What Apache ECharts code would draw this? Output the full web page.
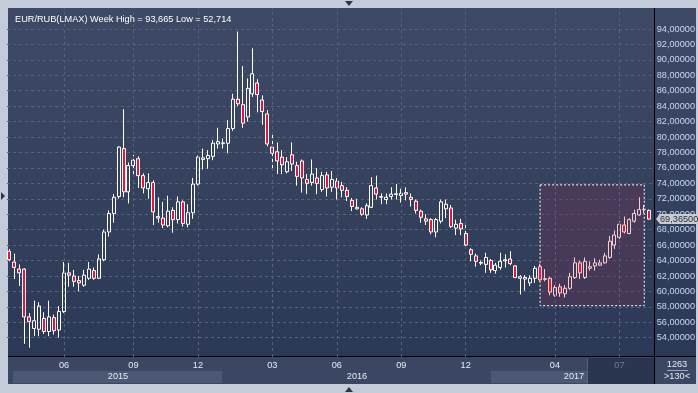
<!DOCTYPE html>
<html><head><meta charset="utf-8">
<script src="https://cdn.jsdelivr.net/npm/echarts@6/dist/echarts.min.js"></script>
<style>
html,body{margin:0;padding:0;background:#c3ccd8;overflow:hidden;}
.abs{position:absolute;}
#panel{left:8px;top:8px;width:688px;height:349px;background:linear-gradient(#3e4a65,#2c3956);}
#xbar{left:8px;top:357px;width:688px;height:27px;background:#3b4762;}
#box15{left:13px;top:371px;width:209px;height:12px;background:#4b5874;}
#box17{left:491px;top:371px;width:96px;height:12px;background:#4b5874;}
#dark{left:587px;top:358px;width:67px;height:26px;background:#2a3550;border-left:1px solid #56637e;}
#hline{left:8px;top:356px;width:688px;height:1px;background:#000;}
#vline{left:654px;top:8px;width:1px;height:376px;background:#000;}
#c{left:0;top:0;width:698px;height:393px;}
</style>
</head><body>
<div class="abs" id="panel"></div>
<div class="abs" id="xbar"></div>
<div class="abs" id="box15"></div>
<div class="abs" id="box17"></div>
<div class="abs" id="dark"></div>
<div class="abs" id="hline"></div>
<div class="abs" id="vline"></div>
<div class="abs" id="c"></div>
<script>
// ---- data (weekly EUR/RUB candles) ----
const opens = [65.2,63.8,62.9,62.9,56.7,55.2,55.1,56.5,54.8,56.6,
  55.0,57.4,62.4,62.0,61.4,60.8,61.7,62.7,61.7,64.1,
  67.7,70.1,72.3,78.5,72.9,76.3,77.2,75.0,73.3,74.1,
  69.7,69.5,68.5,70.5,69.3,71.6,68.7,70.2,73.9,77.1,
  77.2,77.5,79.1,79.15,79.2,81.1,84.9,84.2,82.6,85.6,
  87.0,84.8,83.0,78.7,78.1,77.4,75.5,77.7,76.3,76.9,
  74.5,74.1,74.7,73.2,75.1,73.5,74.3,73.7,73.1,71.8,
  70.7,70.7,69.9,70.9,73.4,72.2,71.9,72.3,72.55,72.4,
  72.8,72.2,71.7,70.4,69.4,69.3,67.7,69.1,70.7,70.8,
  68.2,68.8,67.5,65.4,64.6,63.65,63.5,64.0,62.7,63.1,
  63.95,64.2,63.3,61.7,61.6,61.1,61.7,63.2,61.55,61.7,
  59.5,60.6,59.7,60.4,61.8,63.7,61.8,63.0,63.3,63.4,
  63.7,64.4,66.0,67.0,68.6,67.5,69.1,69.9,70.6,70.5];
const highs = [65.5,64.9,63.5,63.0,57.2,58.8,58.6,57.3,58.8,57.0,
  58.1,63.8,63.7,62.8,62.0,62.8,63.8,63.1,64.8,68.0,
  70.5,72.6,78.8,83.6,76.7,77.7,77.5,75.3,75.3,74.4,
  72.2,71.6,72.4,70.9,72.3,71.8,71.3,74.7,77.6,78.5,
  78.3,79.6,81.2,79.8,82.2,85.6,93.665,89.2,87.6,91.5,
  87.5,85.4,83.5,80.6,79.3,78.3,77.4,79.3,76.8,77.1,
  75.2,77.1,76.0,75.5,75.5,75.6,74.7,74.2,73.5,72.1,
  72.0,70.9,71.4,74.8,75.0,72.7,72.7,73.5,73.9,73.3,
  73.5,72.7,71.9,70.6,70.0,69.5,69.5,71.9,71.9,71.2,
  69.3,69.4,69.0,65.6,64.9,64.0,65.0,64.2,63.7,65.0,
  64.8,65.2,63.4,62.1,62.1,62.1,63.3,63.6,62.9,61.9,
  60.8,61.0,60.8,62.4,64.4,64.0,64.4,63.9,64.3,64.1,
  65.0,67.2,67.9,69.1,69.7,69.5,70.6,72.2,71.2,70.6];
const lows = [63.9,61.6,60.7,53.2,52.714,54.2,54.2,54.5,54.2,54.4,
  54.0,57.2,60.6,60.6,60.0,60.6,61.5,61.5,61.6,63.9,
  67.1,68.9,72.0,72.2,71.4,75.1,73.4,72.7,72.0,68.6,
  68.9,68.2,68.3,67.6,68.8,68.4,68.3,69.4,73.7,75.8,
  75.9,77.0,78.5,78.5,77.9,80.8,84.0,81.2,82.0,85.2,
  83.2,81.6,78.8,75.7,75.2,75.2,75.3,75.6,73.7,72.8,
  72.6,73.7,72.6,72.9,72.3,72.9,71.9,72.2,71.7,70.4,
  70.6,69.8,69.4,70.8,71.9,71.3,71.3,71.9,71.9,71.5,
  71.8,71.0,70.1,68.9,68.6,67.4,67.0,68.8,69.5,68.2,
  67.3,67.3,65.7,63.9,63.2,63.4,62.4,62.4,62.3,62.8,
  63.1,63.4,61.7,59.6,60.1,60.7,61.1,61.3,61.3,59.5,
  59.3,59.3,59.2,60.2,61.6,61.6,61.6,62.7,62.7,63.3,
  63.6,64.2,65.5,66.8,67.5,67.4,68.9,69.8,70.1,69.3];
const closes = [64.1,63.1,62.4,56.7,56.1,56.2,58.1,54.8,56.7,54.9,
  57.4,62.4,62.1,61.3,61.1,62.1,62.9,61.7,64.2,67.7,
  70.1,72.2,78.7,72.9,76.3,77.0,75.0,73.4,74.1,70.3,
  69.5,68.6,70.4,69.3,71.6,68.8,70.2,73.9,77.4,77.3,
  77.6,79.2,79.4,79.25,81.1,84.9,84.3,81.8,86.3,88.2,
  85.5,83.3,79.1,77.9,76.9,76.4,76.8,76.5,74.9,74.7,
  74.0,75.2,74.0,75.0,73.4,74.5,73.4,73.1,72.3,71.0,
  70.9,70.0,71.1,73.7,72.6,72.3,72.2,72.6,72.65,72.7,
  72.6,71.9,70.5,69.6,69.1,67.7,69.3,71.6,71.3,68.4,
  68.7,68.1,66.0,64.8,63.9,63.75,64.4,62.8,63.4,63.9,
  64.1,63.6,61.8,61.9,61.8,61.7,63.0,61.5,61.65,59.9,
  60.5,59.8,60.4,61.9,63.7,62.4,63.9,63.2,63.7,63.7,
  64.6,66.5,67.3,68.7,67.7,69.3,70.1,70.6,70.65,69.365];
const monthTickIdx = [11,25,38,53,66,79,92,110,123];
const monthLabels = ['06','09','12','03','06','09','12','04','07'];
const yTicks = [54,56,58,60,62,64,66,68,70,72,74,76,78,80,82,84,86,88,90,92,94];
const yearLabels = ['2015','2016','2017'];
const selStart = 107, selEnd = 128, selHigh = 73.8, selLow = 58.15;
const lastPrice = 69.365;
const titleText = 'EUR/RUB(LMAX) Week High = 93,665 Low = 52,714';

// week categories
const weeks = [];
for (let i = 0; i < opens.length; i++) {
  const d = new Date(Date.UTC(2015, 2, 2) + i * 7 * 86400000);
  weeks.push(d.toISOString().slice(0, 10));
}
const FONT = "'Liberation Sans', Arial, sans-serif";
const fmt = v => v.toFixed(5).replace('.', ',');

const candleData = opens.map((o, i) => {
  const item = { value: [o, closes[i], lows[i], highs[i]] };
  if (i >= selStart && i <= selEnd) {
    item.itemStyle = { borderColor: '#f6d0d0', borderColor0: '#f6d0d0' };
  }
  return item;
});

const chart = echarts.init(document.getElementById('c'), null, { renderer: 'canvas' });
chart.setOption({
  animation: false,
  backgroundColor: 'transparent',
  title: { text: titleText, left: 10, top: 10, textStyle: { color: '#ffffff', fontSize: 9.2, fontWeight: 'normal', fontFamily: FONT } },
  grid: { left: 7, right: 45, top: 8, bottom: 36, containLabel: false },
  xAxis: {
    type: 'category', data: weeks, boundaryGap: true,
    axisLine: { show: false }, axisTick: { show: false }, splitLine: { show: false },
    axisLabel: {
      interval: (idx) => monthTickIdx.indexOf(idx) >= 0,
      formatter: (val, idx) => {
        const k = monthTickIdx.indexOf(idx);
        if (k < 0) return '';
        return k === monthLabels.length - 1 ? '{d|' + monthLabels[k] + '}' : monthLabels[k];
      },
      rich: { d: { color: '#6d7a95', fontSize: 9.2, fontFamily: FONT } },
      color: '#e6ebf3', fontSize: 9.2, fontFamily: FONT, margin: 4
    }
  },
  yAxis: {
    type: 'value', position: 'right', offset: 2, min: 51.5, max: 96.72, scale: true,
    axisLine: { show: false },
    axisTick: { show: false, customValues: yTicks },
    axisLabel: { customValues: yTicks, formatter: fmt, color: '#c6d8f6', fontSize: 9.2, fontFamily: FONT, margin: 3 },
    splitLine: { show: true, lineStyle: { color: '#56627c', type: [3, 3], width: 1 } }
  },
  series: [{
    type: 'candlestick',
    data: candleData,
    barWidth: 3.5,
    itemStyle: { color: 'rgba(0,0,0,0)', color0: '#e8123c', borderColor: '#ffffff', borderColor0: '#ffffff', borderWidth: 1 },
    markArea: {
      silent: true,
      itemStyle: { color: 'rgba(98,52,84,0.45)', borderColor: '#ffffff', borderWidth: 1, borderType: [2, 2] },
      data: [[{ xAxis: selStart, yAxis: selHigh }, { xAxis: selEnd, yAxis: selLow }]]
    },
    markLine: {
      silent: true, symbol: ['none', 'none'], animation: false,
      label: { show: false },
      data: monthTickIdx.map(i => ({ xAxis: i, lineStyle: { color: '#56627c', type: [3, 3], width: 1 }, label: { show: false } }))
    }
  }]
});

const py = chart.convertToPixel({ yAxisIndex: 0 }, lastPrice);
const txt = (t, x, y, color) => ({ type: 'text', z: 100, silent: true, style: { text: t, x: x, y: y, fill: color || '#e6ebf3', font: '9.2px ' + FONT, align: 'center', verticalAlign: 'middle' } });
chart.setOption({
  graphic: [
    txt(yearLabels[0], 118, 376.5),
    txt(yearLabels[1], 357, 376.5),
    txt(yearLabels[2], 574, 376.5),
    txt('1263', 677, 364.5, '#e3e9f4'),
    txt('>130<', 677, 376.5, '#e3e9f4'),
    { type: 'line', z: 100, silent: true, shape: { x1: 667, y1: 370.5, x2: 688, y2: 370.5 }, style: { stroke: '#9aa6bb', lineWidth: 1 } },
    { type: 'polygon', z: 100, silent: true, shape: { points: [[656, py], [660, py - 5], [698, py - 5], [698, py + 5], [660, py + 5]] }, style: { fill: '#c9cdd3' } },
    { type: 'text', z: 101, silent: true, style: { text: fmt(lastPrice), x: 660, y: py + 0.5, fill: '#2a2f3a', font: '9.2px ' + FONT, align: 'left', verticalAlign: 'middle' } },
    { type: 'polygon', z: 100, silent: true, shape: { points: [[345, 1], [353, 1], [349, 6]] }, style: { fill: '#2a3550' } },
    { type: 'polygon', z: 100, silent: true, shape: { points: [[345, 392], [353, 392], [349, 387]] }, style: { fill: '#2a3550' } },
    { type: 'polygon', z: 100, silent: true, shape: { points: [[1, 192], [1, 200], [5, 196]] }, style: { fill: '#2a3550' } }
  ]
});
</script>
</body></html>
